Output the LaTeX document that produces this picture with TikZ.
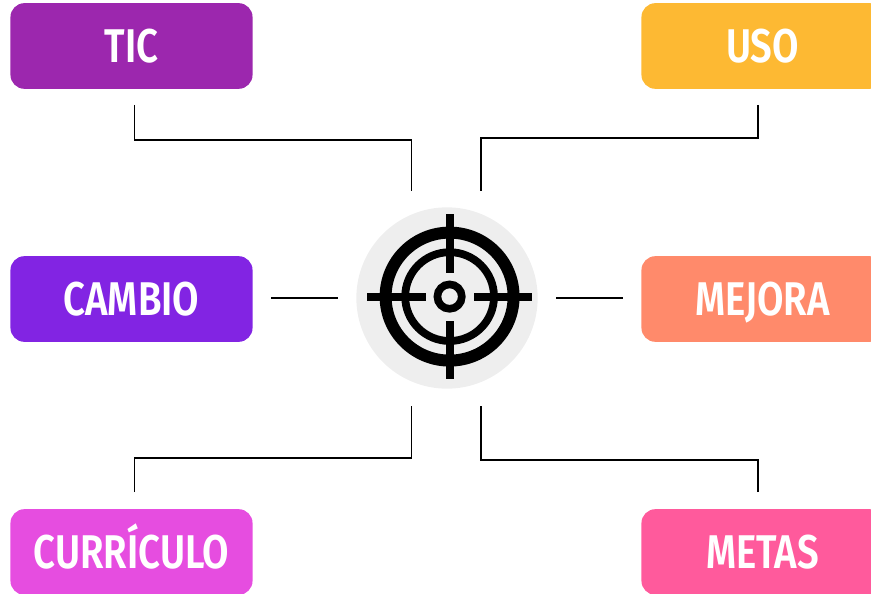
\documentclass[tikz,border=0pt]{standalone}
\usepackage{fontspec}
\setmainfont{Fira Sans}[FakeStretch=0.81,UprightFont=* SemiBold]
\definecolor{cTic}{HTML}{9C27AE}
\definecolor{cUso}{HTML}{FDB933}
\definecolor{cCambio}{HTML}{8224E3}
\definecolor{cMejora}{HTML}{FF8A6B}
\definecolor{cCurr}{HTML}{E64DE0}
\definecolor{cMetas}{HTML}{FF5A9C}
\definecolor{cDisc}{HTML}{EEEEEE}
\tikzset{
  tag/.style={rounded corners=14pt,minimum width=243pt,minimum height=86pt,inner sep=0pt,text=white,font=\fontsize{47.5}{47.5}\selectfont,text height=32.4pt,text depth=0pt,anchor=center},
  wire/.style={draw=black,line width=1.5pt,line join=miter},
  ticks/.style={fill=black}
}
\begin{document}
\begin{tikzpicture}[x=1bp,y=-1bp]
\useasboundingbox (0,0) rectangle (871,594);
\clip (0,0) rectangle (871,594);
\node[tag,fill=cTic] (tic) at (131.5,46) {TIC};
\node[tag,fill=cCambio] (cambio) at (131.5,299) {CAMBIO};
\node[tag,fill=cCurr] (curr) at (131.5,552) {CURRÍCULO};
\node[tag,fill=cUso] (uso) at (762.5,46) {USO};
\node[tag,fill=cMejora] (mejora) at (762.5,299) {MEJORA};
\node[tag,fill=cMetas] (metas) at (762.5,552) {METAS};
\node[circle,fill=cDisc,minimum size=182pt,inner sep=0pt] (disc) at (447,298) {};
\coordinate (c) at (449.6,296.6);
\draw[line width=12pt] (c) circle (64);
\draw[line width=7.8pt] (c) circle (44.4);
\draw[line width=7.7pt] (c) circle (12.2);
\fill[ticks] (445.6,214) rectangle (453.6,272.7);
\fill[ticks] (445.6,320.7) rectangle (453.6,378.7);
\fill[ticks] (367.3,292.6) rectangle (425.7,300.6);
\fill[ticks] (473.7,292.6) rectangle (531.7,300.6);
\coordinate (a1) at (134.5,105);
\coordinate (a2) at (411.7,191);
\coordinate (b1) at (758,105);
\coordinate (b2) at (481,191);
\coordinate (c1) at (271,298);
\coordinate (c2) at (338,298);
\coordinate (d1) at (556,298);
\coordinate (d2) at (623,298);
\coordinate (e1) at (134.5,492);
\coordinate (e2) at (411.7,406);
\coordinate (f1) at (758,492);
\coordinate (f2) at (481,406);
\draw[wire] (a1) |- (a2 |- 0,140) -- (a2);
\draw[wire] (b1) |- (b2 |- 0,138) -- (b2);
\draw[wire] (c1) -- (c2);
\draw[wire] (d1) -- (d2);
\draw[wire] (e1) |- (e2 |- 0,458) -- (e2);
\draw[wire] (f1) |- (f2 |- 0,460) -- (f2);
\end{tikzpicture}
\end{document}
